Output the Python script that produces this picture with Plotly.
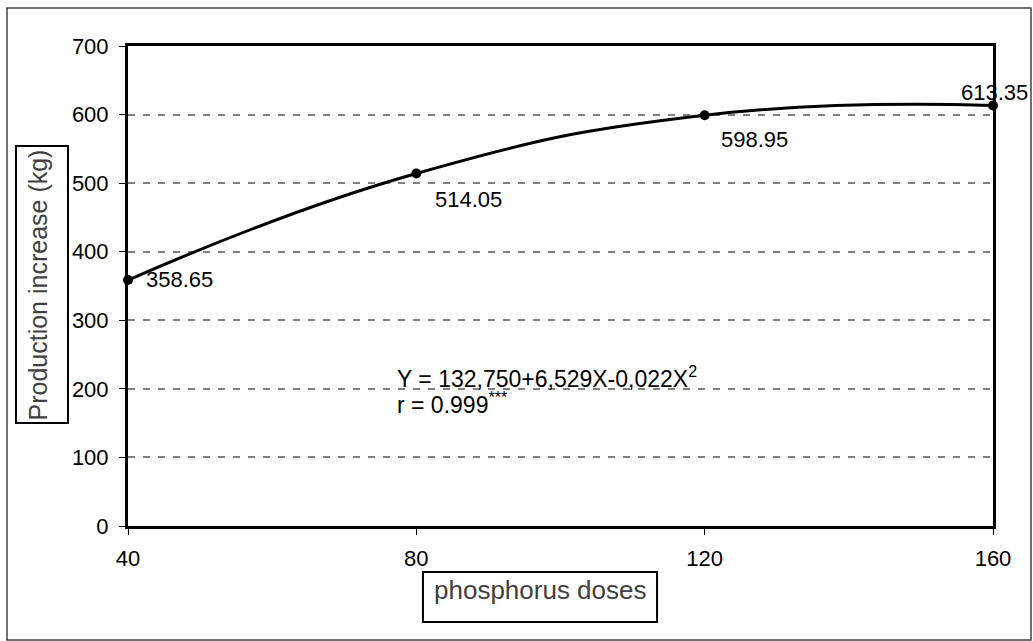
import plotly.graph_objects as go

doses = [40, 80, 120, 160]
production = [358.65, 514.05, 598.95, 613.35]
labels = ["358.65", "514.05", "598.95", "613.35"]
x_ticks = [40, 80, 120, 160]
y_ticks = [0, 100, 200, 300, 400, 500, 600, 700]

FONT = "Arial, Liberation Sans, sans-serif"

fig = go.Figure()
fig.add_trace(go.Scatter(
    x=doses, y=production, mode="lines+markers",
    line=dict(color="black", width=3, shape="spline", smoothing=1.3),
    marker=dict(color="black", size=10),
    cliponaxis=False, showlegend=False, hoverinfo="skip",
))

shifts = [(51, 1), (52, -26), (50, -24), (1, 13)]
for xv, yv, t, (dx, dy) in zip(doses, production, labels, shifts):
    fig.add_annotation(x=xv, y=yv, xref="x", yref="y", text=t, showarrow=False,
                       xshift=dx, yshift=dy, font=dict(size=22, color="black", family=FONT))

fig.add_annotation(x=77.0, y=217, xref="x", yref="y", xanchor="left", yanchor="middle",
                   text="Y = 132,750+6,529X-0,022X<sup>2</sup>", showarrow=False,
                   font=dict(size=23, color="black", family=FONT))
fig.add_annotation(x=77.0, y=180, xref="x", yref="y", xanchor="left", yanchor="middle",
                   text="r = 0.999<sup>***</sup>", showarrow=False,
                   font=dict(size=23, color="black", family=FONT))

# axis title boxes
fig.add_shape(type="rect", xref="paper", yref="paper", x0=-0.1295, x1=-0.0694, y0=0.2146, y1=0.7917,
              line=dict(color="black", width=2), fillcolor="white", layer="below")
fig.add_annotation(xref="paper", yref="paper", x=-0.1035, y=0.502, xanchor="center", yanchor="middle",
                   text="Production increase (kg)",
                   textangle=-90, showarrow=False, font=dict(size=25, color="#404040", family=FONT))
fig.add_shape(type="rect", xref="paper", yref="paper", x0=0.341, x1=0.6116, y0=-0.2, y1=-0.0958,
              line=dict(color="black", width=2), fillcolor="white", layer="below")
fig.add_annotation(xref="paper", yref="paper", x=0.4765, y=-0.1333, xanchor="center", yanchor="middle",
                   text="phosphorus doses",
                   showarrow=False, font=dict(size=26, color="#404040", family=FONT))
# outer border
fig.add_shape(type="rect", xref="paper", yref="paper", x0=-0.1399, x1=1.0439, y0=-0.2375, y1=1.0792,
              line=dict(color="#404040", width=1.5), layer="below")

fig.update_layout(
    width=1033, height=641,
    margin=dict(l=128, r=40, t=46, b=115),
    paper_bgcolor="white", plot_bgcolor="white",
    font=dict(family=FONT, size=22, color="black"),
    xaxis=dict(range=[40, 160], tickvals=x_ticks, ticktext=[str(v) for v in x_ticks],
               showgrid=False, zeroline=False, showline=True, linecolor="black", linewidth=3,
               mirror=True, ticks="outside", ticklen=6, tickwidth=1, tickcolor="black",
               ticklabelstandoff=5),
    yaxis=dict(range=[0, 700], tickvals=y_ticks, ticktext=[str(v) for v in y_ticks],
               showgrid=True, gridcolor="#808080", gridwidth=1.5, griddash="7px,8px",
               zeroline=False, showline=True, linecolor="black", linewidth=3,
               mirror=True, ticks="outside", ticklen=6, tickwidth=1, tickcolor="black",
               ticklabelstandoff=6),
)

fig.write_html("out.html", config={"displayModeBar": False},
               post_script="document.body.style.margin='0';")
